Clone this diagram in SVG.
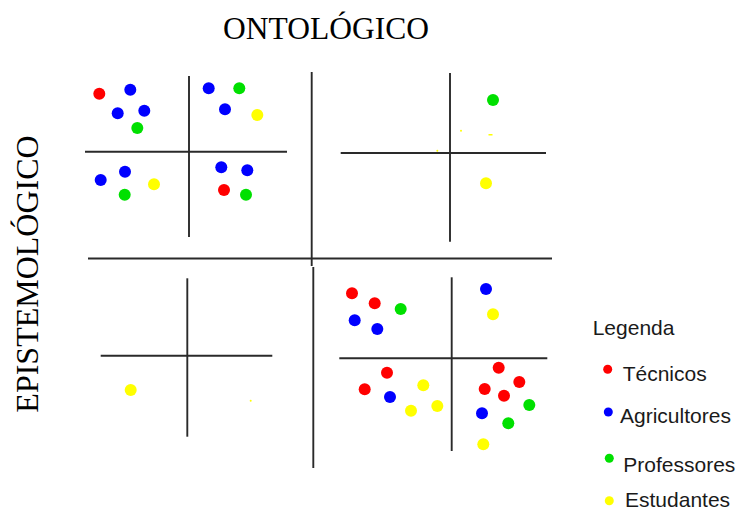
<svg xmlns="http://www.w3.org/2000/svg" width="740" height="510" viewBox="0 0 740 510">
<style>
.ln{stroke:#2a2a2a;stroke-width:1.9;fill:none}
.t{font-family:"Liberation Serif","Times New Roman",serif;fill:#000}
.lg{font-family:"Liberation Sans",Arial,sans-serif;font-size:21px;fill:#1a1a1a}
.r{fill:#ff0000}.b{fill:#0000ff}.g{fill:#00e000}.y{fill:#ffff00}
</style>
<rect width="740" height="510" fill="#fff"/>
<g id="titles">
<text class="t" x="326" y="38.5" font-size="31.5" text-anchor="middle">ONTOLÓGICO</text>
<text class="t" transform="translate(38,274) rotate(-90)" font-size="32" text-anchor="middle">EPISTEMOLÓGICO</text>
</g>
<g id="axes">
<line class="ln" x1="311.7" y1="72" x2="311.7" y2="266"/>
<line class="ln" x1="313.3" y1="267" x2="313.3" y2="468"/>
<line class="ln" x1="88" y1="258.5" x2="552" y2="258.5"/>
<line class="ln" x1="189" y1="76" x2="189" y2="237"/>
<line class="ln" x1="85" y1="151.7" x2="287" y2="151.7"/>
<line class="ln" x1="450" y1="73" x2="450" y2="241.7"/>
<line class="ln" x1="340.7" y1="153" x2="546" y2="153"/>
<line class="ln" x1="187.3" y1="278.3" x2="187.3" y2="436.7"/>
<line class="ln" x1="100.7" y1="355.7" x2="272.3" y2="355.7"/>
<line class="ln" x1="451.7" y1="277.3" x2="451.7" y2="451"/>
<line class="ln" x1="339.3" y1="358.3" x2="547.3" y2="358.3"/>
</g>
<g id="dots-top-left">
<circle class="r" cx="99.3" cy="93.7" r="6"/>
<circle class="b" cx="130.3" cy="89.7" r="6"/>
<circle class="b" cx="117.7" cy="113.3" r="6"/>
<circle class="b" cx="144.3" cy="110.7" r="6"/>
<circle class="g" cx="137.3" cy="128" r="6"/>
<circle class="b" cx="208.7" cy="88.3" r="6"/>
<circle class="g" cx="239.3" cy="88.3" r="6"/>
<circle class="b" cx="225" cy="109.3" r="6"/>
<circle class="y" cx="257.3" cy="115" r="6"/>
<circle class="b" cx="100.7" cy="180" r="6"/>
<circle class="b" cx="125" cy="171.7" r="6"/>
<circle class="g" cx="124.7" cy="194.7" r="6"/>
<circle class="y" cx="154" cy="184.3" r="6"/>
<circle class="b" cx="221.3" cy="167.3" r="6"/>
<circle class="b" cx="247.3" cy="170.3" r="6"/>
<circle class="r" cx="224" cy="190" r="6"/>
<circle class="g" cx="246" cy="194.7" r="6"/>
</g>
<g id="dots-top-right">
<circle class="g" cx="493" cy="100" r="6"/>
<circle class="y" cx="486" cy="183.3" r="6"/>
<circle class="y" cx="461" cy="130.7" r="1"/>
<rect class="y" x="488.5" y="134" width="4" height="1.5"/>
<circle class="y" cx="437.3" cy="150.7" r="1"/>
</g>
<g id="dots-bottom-left">
<circle class="y" cx="130.7" cy="390" r="6"/>
<circle class="y" cx="250.7" cy="400.7" r="1"/>
</g>
<g id="dots-bottom-right">
<circle class="r" cx="352" cy="293.3" r="6"/>
<circle class="r" cx="374.7" cy="303.3" r="6"/>
<circle class="g" cx="400.7" cy="309" r="6"/>
<circle class="b" cx="354.7" cy="320.3" r="6"/>
<circle class="b" cx="377.3" cy="329" r="6"/>
<circle class="b" cx="486" cy="289" r="6"/>
<circle class="y" cx="493" cy="314.3" r="6"/>
<circle class="r" cx="387" cy="372.7" r="6"/>
<circle class="r" cx="364.7" cy="389.3" r="6"/>
<circle class="b" cx="390" cy="397" r="6"/>
<circle class="y" cx="423.3" cy="385.3" r="6"/>
<circle class="y" cx="411" cy="410.7" r="6"/>
<circle class="y" cx="437.3" cy="406" r="6"/>
<circle class="r" cx="498.7" cy="367.7" r="6"/>
<circle class="r" cx="519.3" cy="382" r="6"/>
<circle class="r" cx="484.7" cy="389" r="6"/>
<circle class="r" cx="504" cy="395.7" r="6"/>
<circle class="g" cx="529.3" cy="405" r="6"/>
<circle class="b" cx="482" cy="413.3" r="6"/>
<circle class="g" cx="508.3" cy="423.3" r="6"/>
<circle class="y" cx="483.3" cy="444.3" r="6"/>
</g>
<g id="legend">
<text class="lg" x="592.7" y="334.5">Legenda</text>
<circle class="r" cx="607.7" cy="369.3" r="4.5"/>
<text class="lg" x="622.7" y="381">Técnicos</text>
<circle class="b" cx="608.3" cy="412" r="4.5"/>
<text class="lg" x="620" y="423.3">Agricultores</text>
<circle class="g" cx="609.3" cy="458.3" r="4.5"/>
<text class="lg" x="623.3" y="471.7">Professores</text>
<circle class="y" cx="609.3" cy="500.7" r="4.5"/>
<text class="lg" x="625" y="506.5">Estudantes</text>
</g>
</svg>
